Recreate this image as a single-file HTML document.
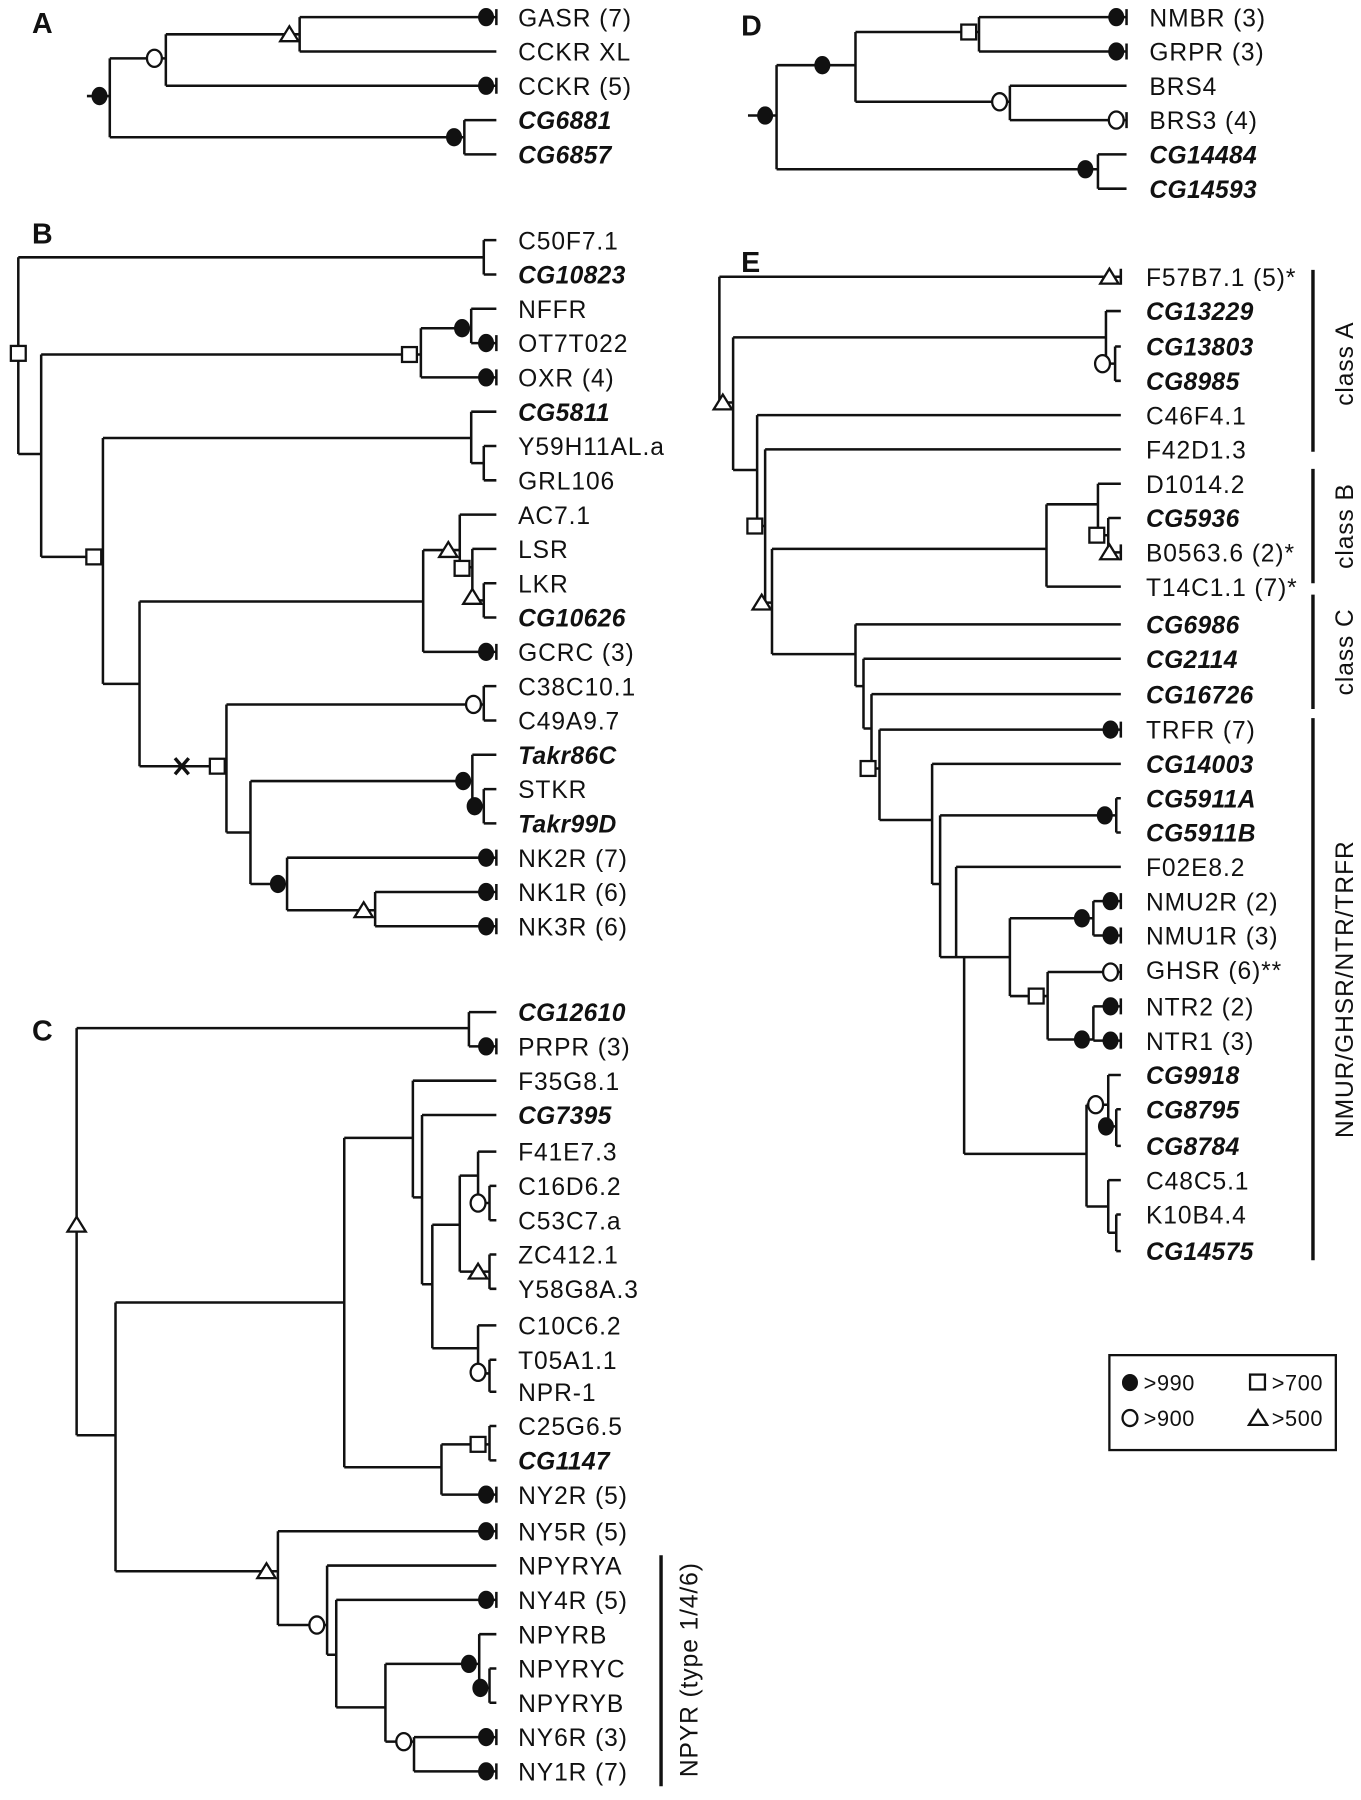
<!DOCTYPE html>
<html><head><meta charset="utf-8"><style>
html,body{margin:0;padding:0;background:#fff;}
svg{display:block;}
text{font-family:"Liberation Sans",Arial,sans-serif;font-size:21.5px;letter-spacing:0.8px;fill:#111;}
.b{font-weight:bold;font-style:italic;letter-spacing:0.3px;}
.L{font-weight:bold;font-size:25px;letter-spacing:0;}
.g{font-size:19px;letter-spacing:0.5px;}
path{fill:none;stroke:#111;stroke-width:2.2;}
.d{fill:#111;stroke:#111;stroke-width:1;}
.o{fill:#fff;stroke:#111;stroke-width:2;}
</style></head><body>
<svg width="1361" height="1800" viewBox="0 0 1190 1574" preserveAspectRatio="none" xmlns="http://www.w3.org/2000/svg">
<defs>
<g id="D"><ellipse cx="0" cy="0" rx="6.5" ry="7.5" class="d"/></g>
<g id="C"><ellipse cx="0" cy="0" rx="6.5" ry="7.5" class="o"/></g>
<g id="S"><rect x="-6.5" y="-6.5" width="13" height="13" class="o"/></g>
<g id="T"><polygon points="-8,6 0,-7 8,6" class="o"/></g>
</defs>

<!-- Panel A -->
<text x="28" y="29" class="L">A</text>
<path d="M76,84 H96 M96,51 V120 M96,51 H145 M145,30 V75 M145,30 H262 M262,15 V45 M262,15 H434 M262,45 H434 M145,75 H434 M96,120 H406 M406,105 V135 M406,105 H434 M406,135 H434 M434,8 V22 M434,68 V82"/>
<use href="#D" x="87" y="84"/><use href="#C" x="135" y="51"/><use href="#T" x="253" y="30"/>
<use href="#D" x="425" y="15"/><use href="#D" x="425" y="75"/><use href="#D" x="397" y="120"/>
<text x="453" y="23">GASR (7)</text>
<text x="453" y="53">CCKR XL</text>
<text x="453" y="83">CCKR (5)</text>
<text x="453" y="113" class="b">CG6881</text>
<text x="453" y="143" class="b">CG6857</text>

<!-- Panel B -->
<text x="28" y="213" class="L">B</text>
<path d="M16,225 V397 M16,225 H423 M423,210 V240 M423,210 H434 M423,240 H434
M16,397 H36 M36,310 V487 M36,310 H368 M368,287 V330 M368,287 H412 M412,270 V300 M412,270 H434 M412,300 H434 M368,330 H434
M36,487 H90 M90,383 V598 M90,383 H412 M412,360 V405 M412,360 H434 M412,405 H423 M423,390 V420 M423,390 H434 M423,420 H434
M90,598 H122 M122,526 V670 M122,526 H370 M370,481 V570 M370,570 H434
M370,481 H402 M402,450 V497 M402,450 H434 M402,496 H413 M413,480 V525 M413,480 H434 M413,525 H423 M423,510 V540 M423,510 H434 M423,540 H434
M122,670 H198 M198,616 V728 M198,616 H423 M423,600 V630 M423,600 H434 M423,630 H434
M198,728 H219 M219,683 V773 M219,683 H413 M413,660 V705 M413,660 H434 M413,705 H423 M423,690 V720 M423,690 H434 M423,720 H434
M219,773 H251 M251,750 V796 M251,750 H434 M251,796 H328 M328,780 V810 M328,780 H434 M328,810 H434
M434,293 V307 M434,323 V337 M434,563 V577 M434,743 V757 M434,773 V787 M434,803 V817"/>
<path d="M153,663 L165,677 M165,663 L153,677" style="stroke-width:3"/>
<use href="#S" x="16" y="309"/><use href="#S" x="358" y="310"/><use href="#D" x="404" y="287"/>
<use href="#D" x="425" y="300"/><use href="#D" x="425" y="330"/>
<use href="#S" x="82" y="487"/><use href="#T" x="392" y="481"/><use href="#S" x="404" y="497"/><use href="#T" x="413" y="522"/>
<use href="#D" x="425" y="570"/><use href="#S" x="190" y="670"/><use href="#C" x="414" y="616"/>
<use href="#D" x="405" y="683"/><use href="#D" x="415" y="705"/>
<use href="#D" x="243" y="773"/><use href="#D" x="425" y="750"/><use href="#T" x="318" y="796"/>
<use href="#D" x="425" y="780"/><use href="#D" x="425" y="810"/>
<text x="453" y="218">C50F7.1</text>
<text x="453" y="248" class="b">CG10823</text>
<text x="453" y="278">NFFR</text>
<text x="453" y="308">OT7T022</text>
<text x="453" y="338">OXR (4)</text>
<text x="453" y="368" class="b">CG5811</text>
<text x="453" y="398">Y59H11AL.a</text>
<text x="453" y="428">GRL106</text>
<text x="453" y="458">AC7.1</text>
<text x="453" y="488">LSR</text>
<text x="453" y="518">LKR</text>
<text x="453" y="548" class="b">CG10626</text>
<text x="453" y="578">GCRC (3)</text>
<text x="453" y="608">C38C10.1</text>
<text x="453" y="638">C49A9.7</text>
<text x="453" y="668" class="b">Takr86C</text>
<text x="453" y="698">STKR</text>
<text x="453" y="728" class="b">Takr99D</text>
<text x="453" y="758">NK2R (7)</text>
<text x="453" y="788">NK1R (6)</text>
<text x="453" y="818">NK3R (6)</text>

<!-- Panel C -->
<text x="28" y="910" class="L">C</text>
<path d="M67,899 V1255 M67,899 H410 M410,885 V915 M410,885 H434 M410,915 H434
M67,1255 H101 M101,1139 V1374 M101,1139 H301 M301,995 V1283 M301,995 H361 M361,945 V1047 M361,945 H434
M361,1047 H369 M369,975 V1123 M369,975 H434 M369,1123 H378 M378,1071 V1179
M378,1071 H402 M402,1028 V1112 M402,1028 H418 M418,1007 V1052 M418,1007 H434 M418,1052 H428 M428,1037 V1067 M428,1037 H434 M428,1067 H434
M402,1112 H428 M428,1097 V1127 M428,1097 H434 M428,1127 H434
M378,1179 H418 M418,1159 V1201 M418,1159 H434 M418,1201 H428 M428,1189 V1217 M428,1189 H434 M428,1217 H434
M301,1283 H386 M386,1263 V1307 M386,1263 H428 M428,1247 V1277 M428,1247 H434 M428,1277 H434 M386,1307 H434
M101,1374 H243 M243,1339 V1421 M243,1339 H434 M243,1421 H286 M286,1369 V1447 M286,1369 H434
M286,1447 H294 M294,1399 V1493 M294,1399 H434 M294,1493 H337 M337,1455 V1523
M337,1455 H419 M419,1429 V1476 M419,1429 H434 M419,1476 H428 M428,1459 V1489 M428,1459 H434 M428,1489 H434
M337,1523 H362 M362,1519 V1549 M362,1519 H434 M362,1549 H434
M434,908 V922 M434,1300 V1314 M434,1332 V1346 M434,1392 V1406 M434,1512 V1526 M434,1542 V1556"/>
<use href="#T" x="67" y="1071"/><use href="#D" x="425" y="915"/>
<use href="#C" x="418" y="1052"/><use href="#T" x="418" y="1112"/><use href="#C" x="418" y="1200"/>
<use href="#S" x="418" y="1263"/><use href="#D" x="425" y="1307"/>
<use href="#T" x="233" y="1374"/><use href="#D" x="425" y="1339"/><use href="#C" x="277" y="1421"/>
<use href="#D" x="425" y="1399"/><use href="#D" x="410" y="1455"/><use href="#D" x="420" y="1476"/>
<use href="#C" x="353" y="1523"/><use href="#D" x="425" y="1519"/><use href="#D" x="425" y="1549"/>
<text x="453" y="893" class="b">CG12610</text>
<text x="453" y="923">PRPR (3)</text>
<text x="453" y="953">F35G8.1</text>
<text x="453" y="983" class="b">CG7395</text>
<text x="453" y="1015">F41E7.3</text>
<text x="453" y="1045">C16D6.2</text>
<text x="453" y="1075">C53C7.a</text>
<text x="453" y="1105">ZC412.1</text>
<text x="453" y="1135">Y58G8A.3</text>
<text x="453" y="1167">C10C6.2</text>
<text x="453" y="1197">T05A1.1</text>
<text x="453" y="1225">NPR-1</text>
<text x="453" y="1255">C25G6.5</text>
<text x="453" y="1285" class="b">CG1147</text>
<text x="453" y="1315">NY2R (5)</text>
<text x="453" y="1347">NY5R (5)</text>
<text x="453" y="1377">NPYRYA</text>
<text x="453" y="1407">NY4R (5)</text>
<text x="453" y="1437">NPYRB</text>
<text x="453" y="1467">NPYRYC</text>
<text x="453" y="1497">NPYRYB</text>
<text x="453" y="1527">NY6R (3)</text>
<text x="453" y="1557">NY1R (7)</text>
<path d="M578,1360 V1562" style="stroke-width:3"/>
<text transform="translate(610,1460) rotate(-90)" text-anchor="middle">NPYR (type 1/4/6)</text>

<!-- Panel D -->
<text x="648" y="31" class="L">D</text>
<path d="M654,101 H679 M679,57 V148 M679,57 H748 M748,28 V89 M748,28 H856 M856,15 V45 M856,15 H985 M856,45 H985
M748,89 H883 M883,75 V105 M883,75 H985 M883,105 H985 M679,148 H960 M960,135 V165 M960,135 H985 M960,165 H985
M985,8 V22 M985,38 V52 M985,98 V112"/>
<use href="#D" x="669" y="101"/><use href="#D" x="719" y="57"/><use href="#S" x="847" y="28"/>
<use href="#D" x="976" y="15"/><use href="#D" x="976" y="45"/><use href="#C" x="874" y="89"/>
<use href="#C" x="976" y="105"/><use href="#D" x="949" y="148"/>
<text x="1005" y="23">NMBR (3)</text>
<text x="1005" y="53">GRPR (3)</text>
<text x="1005" y="83">BRS4</text>
<text x="1005" y="113">BRS3 (4)</text>
<text x="1005" y="143" class="b">CG14484</text>
<text x="1005" y="173" class="b">CG14593</text>

<!-- Panel E -->
<text x="648" y="238" class="L">E</text>
<path d="M629,242 V352 M629,242 H980 M629,352 H641 M641,295 V411 M641,295 H967 M967,272 V318 M967,272 H980 M967,318 H975 M975,303 V333 M975,303 H980 M975,333 H980
M641,411 H662 M662,363 V460 M662,363 H980 M662,460 H669 M669,393 V527 M669,393 H980 M669,527 H675 M675,480 V572
M675,480 H915 M915,441 V513 M915,513 H980 M915,441 H960 M960,423 V468 M960,423 H980 M960,468 H969 M969,453 V483 M969,453 H980 M969,483 H980
M675,572 H748 M748,546 V600 M748,546 H980 M748,600 H755 M755,576 V637 M755,576 H980 M755,637 H762 M762,607 V672 M762,607 H980
M762,672 H769 M769,638 V717 M769,638 H980 M769,717 H815 M815,668 V773 M815,668 H980
M815,773 H822 M822,713 V837 M822,713 H976 M976,698 V728 M976,698 H980 M976,728 H980
M822,837 H843 M836,758 V837 M836,758 H980 M843,837 V1009 M843,837 H883 M883,803 V871
M883,803 H956 M956,788 V818 M956,788 H980 M956,818 H980
M883,871 H916 M916,850 V909 M916,850 H980 M916,909 H956 M956,880 V910 M956,880 H980 M956,910 H980
M843,1009 H950 M950,966 V1055 M950,966 H969 M969,940 V985 M969,940 H980 M969,985 H976 M976,970 V1002 M976,970 H980 M976,1002 H980
M950,1055 H969 M969,1032 V1078 M969,1032 H980 M969,1078 H976 M976,1062 V1094 M976,1062 H980 M976,1094 H980
M980,235 V249 M980,476 V490 M980,631 V645 M980,781 V795 M980,811 V825 M980,843 V857 M980,873 V887 M980,903 V917"/>
<use href="#T" x="970" y="242"/><use href="#T" x="632" y="352"/><use href="#C" x="964" y="318"/>
<use href="#S" x="660" y="460"/><use href="#T" x="666" y="527"/><use href="#S" x="959" y="468"/><use href="#T" x="970" y="483"/>
<use href="#S" x="759" y="672"/><use href="#D" x="971" y="638"/><use href="#D" x="966" y="713"/>
<use href="#D" x="946" y="803"/><use href="#D" x="971" y="788"/><use href="#D" x="971" y="818"/>
<use href="#S" x="906" y="871"/><use href="#C" x="971" y="850"/><use href="#D" x="946" y="909"/>
<use href="#D" x="971" y="880"/><use href="#D" x="971" y="910"/>
<use href="#C" x="958" y="966"/><use href="#D" x="967" y="985"/>
<text x="1002" y="250">F57B7.1 (5)*</text>
<text x="1002" y="280" class="b">CG13229</text>
<text x="1002" y="311" class="b">CG13803</text>
<text x="1002" y="341" class="b">CG8985</text>
<text x="1002" y="371">C46F4.1</text>
<text x="1002" y="401">F42D1.3</text>
<text x="1002" y="431">D1014.2</text>
<text x="1002" y="461" class="b">CG5936</text>
<text x="1002" y="491">B0563.6 (2)*</text>
<text x="1002" y="521">T14C1.1 (7)*</text>
<text x="1002" y="554" class="b">CG6986</text>
<text x="1002" y="584" class="b">CG2114</text>
<text x="1002" y="615" class="b">CG16726</text>
<text x="1002" y="646">TRFR (7)</text>
<text x="1002" y="676" class="b">CG14003</text>
<text x="1002" y="706" class="b">CG5911A</text>
<text x="1002" y="736" class="b">CG5911B</text>
<text x="1002" y="766">F02E8.2</text>
<text x="1002" y="796">NMU2R (2)</text>
<text x="1002" y="826">NMU1R (3)</text>
<text x="1002" y="856">GHSR (6)**</text>
<text x="1002" y="888">NTR2 (2)</text>
<text x="1002" y="918">NTR1 (3)</text>
<text x="1002" y="948" class="b">CG9918</text>
<text x="1002" y="978" class="b">CG8795</text>
<text x="1002" y="1010" class="b">CG8784</text>
<text x="1002" y="1040">C48C5.1</text>
<text x="1002" y="1070">K10B4.4</text>
<text x="1002" y="1102" class="b">CG14575</text>
<path d="M1148,236 V395 M1148,410 V510 M1148,520 V620 M1148,628 V1102" style="stroke-width:3"/>
<text transform="translate(1183,318) rotate(-90)" text-anchor="middle">class A</text>
<text transform="translate(1183,460) rotate(-90)" text-anchor="middle">class B</text>
<text transform="translate(1183,570) rotate(-90)" text-anchor="middle">class C</text>
<text transform="translate(1183,865) rotate(-90)" text-anchor="middle">NMUR/GHSR/NTR/TRFR</text>

<!-- Legend -->
<rect x="970" y="1185" width="198" height="83" style="fill:none;stroke:#111;stroke-width:2"/>
<ellipse cx="988" cy="1209" rx="6.5" ry="7" class="d"/>
<text x="1000" y="1216" class="g">&gt;990</text>
<rect x="1093" y="1202" width="13" height="13" class="o"/>
<text x="1112" y="1216" class="g">&gt;700</text>
<ellipse cx="988" cy="1240" rx="6.5" ry="7" class="o"/>
<text x="1000" y="1247" class="g">&gt;900</text>
<polygon points="1092,1246 1100,1233 1108,1246" class="o"/>
<text x="1112" y="1247" class="g">&gt;500</text>
</svg>
</body></html>
